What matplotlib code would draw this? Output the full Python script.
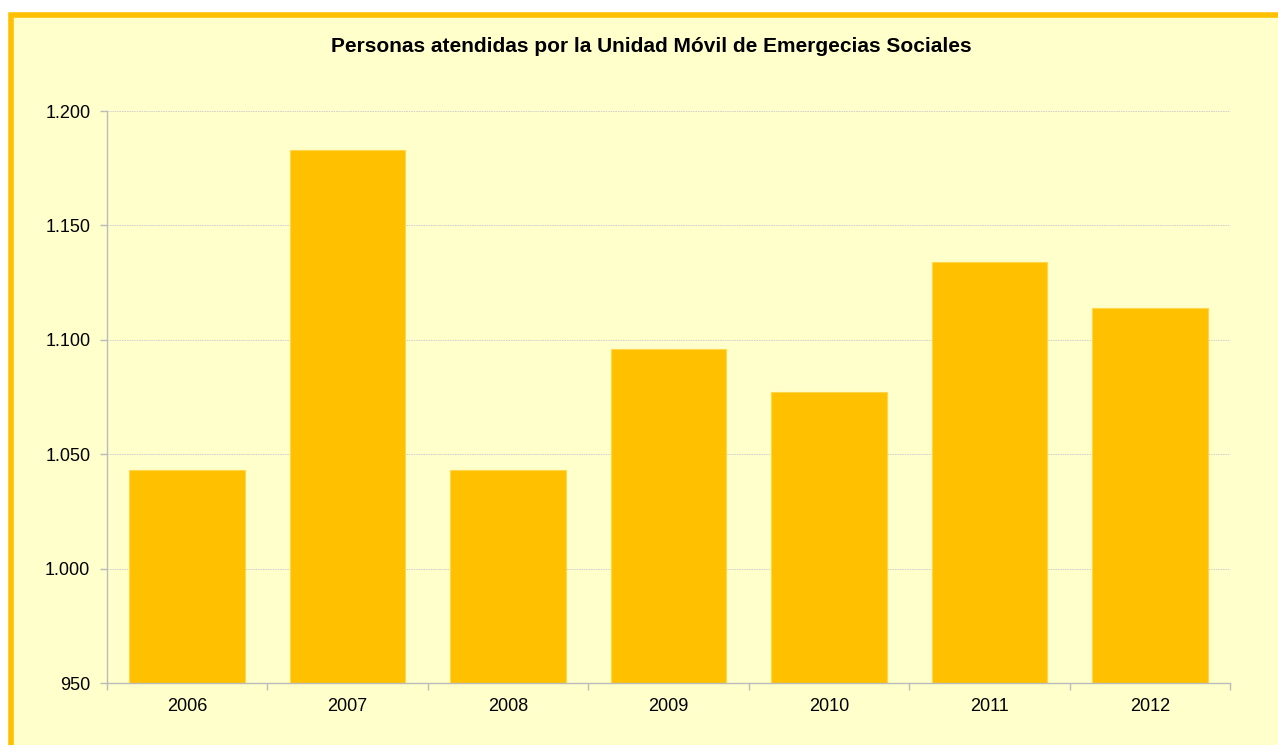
import matplotlib.pyplot as plt
from matplotlib.patches import Rectangle
from matplotlib.ticker import FuncFormatter, FixedLocator

plt.rcParams["font.family"] = ["Liberation Sans", "DejaVu Sans"]

years = ["2006", "2007", "2008", "2009", "2010", "2011", "2012"]
personas = [1043, 1183, 1043, 1096, 1077, 1134, 1114]

W, H = 1278, 745
fig = plt.figure(figsize=(W / 100, H / 100), dpi=100)
fig.patch.set_facecolor("white")

# panel with orange border (right and bottom run off the picture)
fig.patches.append(Rectangle((10.5 / W, -0.05), 1.1, 1.05 - 15.5 / H,
                             transform=fig.transFigure, facecolor="#FFFFCC",
                             edgecolor="#FFC000", linewidth=4, zorder=0))

ax = fig.add_axes([107 / W, 1 - 683 / H, (1230 - 107) / W, (683 - 111) / H])
ax.set_zorder(2)
ax.set_facecolor("none")

x = range(len(years))
ax.bar(x, personas, width=0.72, color="#FFC000", edgecolor="#FFD54A",
       linewidth=0.8, zorder=2)

ax.set_ylim(950, 1200)
ax.set_xlim(-0.5, len(years) - 0.5)
ax.set_yticks([950, 1000, 1050, 1100, 1150, 1200])
ax.yaxis.set_major_formatter(FuncFormatter(lambda v, p: f"{int(v):,}".replace(",", ".")))
ax.grid(axis="y", color="#CFCFCF", linestyle=(0, (1.5, 1)), linewidth=0.7, zorder=1)

ax.set_xticks(list(x))
ax.set_xticklabels(years)
ax.xaxis.set_minor_locator(FixedLocator([i - 0.5 for i in range(len(years) + 1)]))
ax.tick_params(axis="x", which="major", length=0, pad=11, labelsize=13)
ax.tick_params(axis="x", which="minor", length=5, color="#BBBBBB", width=1)
ax.tick_params(axis="y", length=5, color="#BBBBBB", width=1, pad=7, labelsize=13)

for s in ["top", "right"]:
    ax.spines[s].set_visible(False)
for s in ["left", "bottom"]:
    ax.spines[s].set_color("#BBBBBB")
    ax.spines[s].set_linewidth(1)

fig.text(651 / W, 1 - 47 / H, "Personas atendidas por la Unidad Móvil de Emergecias Sociales",
         ha="center", va="center", fontsize=15, fontweight="bold")

fig.savefig("out.png", dpi=100)
